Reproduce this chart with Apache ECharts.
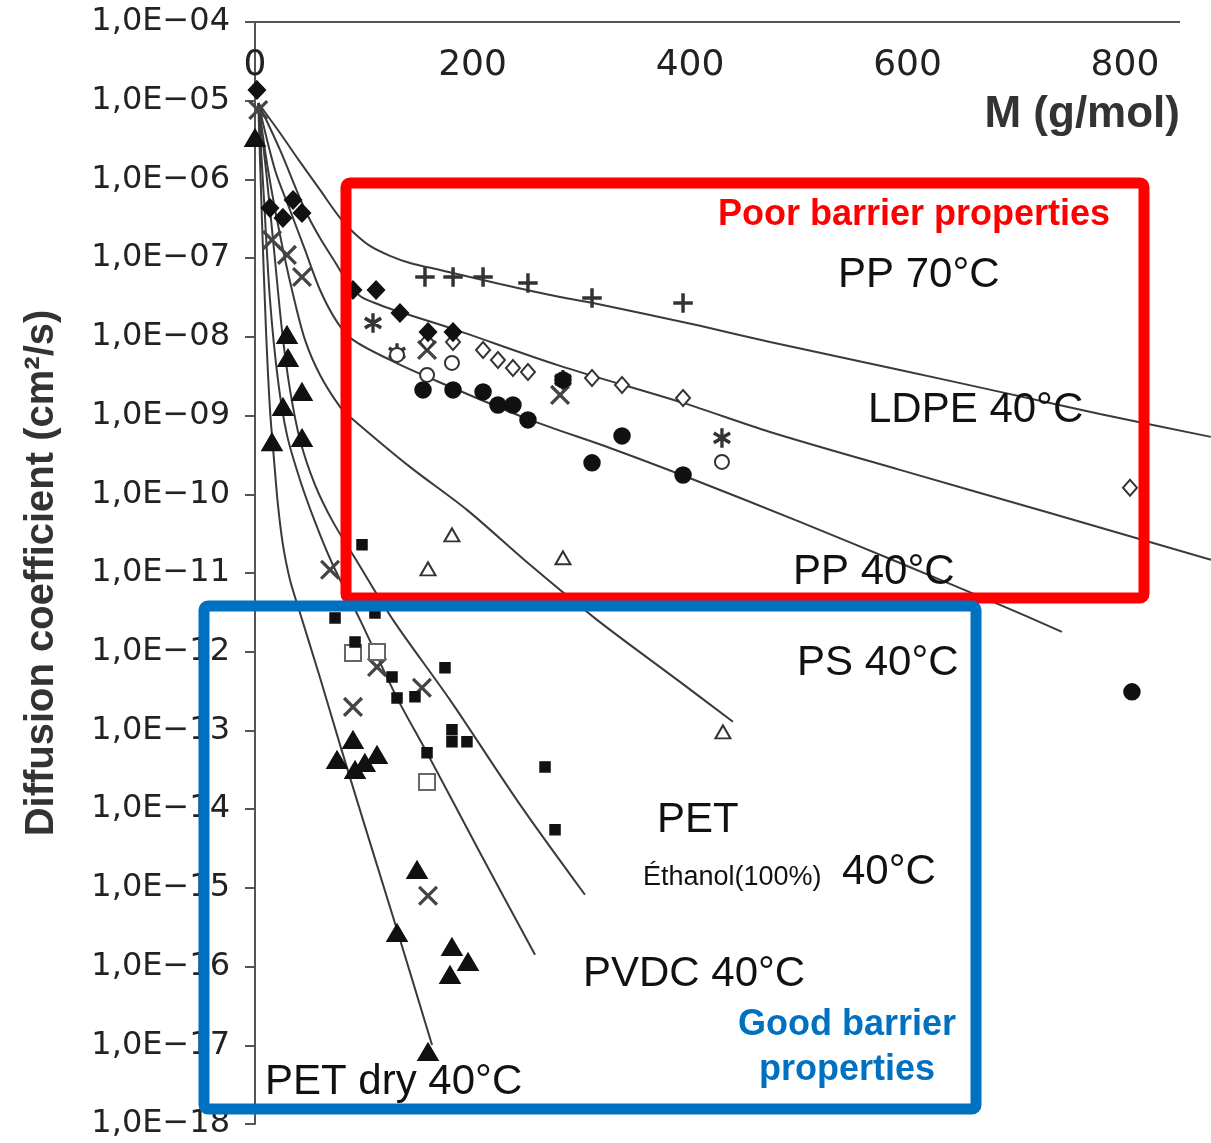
<!DOCTYPE html>
<html>
<head>
<meta charset="utf-8">
<script src="https://cdn.jsdelivr.net/npm/echarts@6/dist/echarts.min.js"></script>
<style>
  html, body { margin: 0; padding: 0; background: #fff; }
  #chart { width: 1211px; height: 1143px; }
</style>
</head>
<body>
<div id="chart"></div>
<script>
// fitted curves, M in g/mol, D in cm2/s
var pp70M = [3, 23, 41.4, 59.8, 78.2, 90.1, 105.7, 124.1, 142.5, 170.1, 225.3, 280.5, 310.8, 409.2, 473.6, 593.1, 685.1, 777, 879];
var pp70D = [9.35e-6, 3.89e-6, 1.67e-6, 7.35e-7, 3.24e-7, 2.15e-7, 1.43e-7, 1.07e-7, 8.69e-8, 7.08e-8, 4.7e-8, 3.21e-8, 2.7e-8, 1.38e-8, 8.61e-9, 3.8e-9, 2.0e-9, 1.05e-9, 5.36e-10];
var ldpeM = [3, 23, 46, 59.8, 73.6, 82.8, 96.6, 115, 133.3, 179.3, 280.5, 393.6, 473.6, 593.1, 731, 879];
var ldpeD = [9.35e-6, 2.37e-6, 4.09e-7, 1.8e-7, 8.95e-8, 5.6e-8, 3.31e-8, 2.54e-8, 2.07e-8, 1.3e-8, 4.28e-9, 1.45e-9, 6.19e-10, 2.04e-10, 5.79e-11, 1.47e-11];
var pp40M = [3, 18.4, 32.2, 46, 59.8, 75.4, 90.1, 124.1, 158.2, 252.9, 326.4, 397.2, 501.1, 593.1, 685.1, 742];
var pp40D = [9.35e-6, 1.32e-6, 4.09e-7, 1.27e-7, 3.94e-8, 1.55e-8, 9.14e-9, 5.09e-9, 3.1e-9, 8.81e-10, 3.88e-10, 1.66e-10, 4.46e-11, 1.34e-11, 3.94e-12, 1.79e-12];
var ps40M = [3, 12, 23, 34, 46, 59.8, 78.2, 87.4, 142.5, 194.9, 252.9, 314.5, 390.8, 439.5];
var ps40D = [9.35e-6, 1.32e-6, 1.97e-7, 3.94e-8, 9.14e-9, 3.28e-9, 1.29e-9, 9.62e-10, 2.23e-10, 6.34e-11, 1.27e-11, 2.54e-12, 4.14e-13, 1.29e-13];
var petEthM = [3, 10.1, 17.5, 24.8, 32.2, 41.4, 55.2, 71.7, 92.9, 126.9, 179.3, 243.7, 303.4];
var petEthD = [9.35e-6, 1.32e-6, 1.27e-7, 1.22e-8, 2.12e-9, 4.91e-10, 1.32e-10, 4.46e-11, 1.47e-11, 2.54e-12, 2.44e-13, 1.14e-14, 8.17e-16];
var pvdcM = [3, 8.3, 13.8, 21.1, 29.4, 41.4, 55.2, 70.8, 96.6, 130.6, 158.2, 206.9, 257.5];
var pvdcD = [9.35e-6, 5.48e-7, 2.94e-8, 2.84e-9, 5.68e-10, 1.52e-10, 4.46e-11, 1.34e-11, 2.54e-12, 2.59e-13, 5.19e-14, 2.79e-15, 1.41e-16];
var petDryM = [3, 6.4, 10.1, 13.8, 17.5, 21.1, 25.7, 32.2, 41.4, 59.8, 78.2, 99.3, 130.6, 162.8];
var petDryD = [9.35e-6, 3.05e-7, 1.22e-8, 1.18e-9, 2.74e-10, 7.33e-11, 2.28e-11, 8.17e-12, 3.11e-12, 4.66e-13, 6.56e-14, 7.31e-15, 2.93e-16, 1.01e-17];

// measured points
var plusM = [156.3, 182.1, 209.7, 251, 309.9, 393.6];
var plusD = [5.77e-8, 5.77e-8, 5.77e-8, 4.84e-8, 3.12e-8, 2.7e-8];
var fDiamondM = [1.8, 13.8, 25.7, 35, 43.2, 90.1, 111.3, 133.3, 159.1, 182.1];
var fDiamondD = [1.37e-5, 4.34e-7, 3.24e-7, 5.48e-7, 3.75e-7, 3.94e-8, 3.94e-8, 2.01e-8, 1.15e-8, 1.15e-8];
var oDiamondM = [158.2, 182.1, 209.7, 223.4, 237.2, 251, 309.9, 337.5, 393.6, 804.6];
var oDiamondD = [8.61e-9, 8.61e-9, 6.82e-9, 5.09e-9, 4.03e-9, 3.58e-9, 3.01e-9, 2.45e-9, 1.67e-9, 1.21e-10];
var starM = [108.5, 130.6, 283.2, 429.4];
var starD = [1.5e-8, 6.25e-9, 2.84e-9, 5.2e-10];
var crossM = [3, 15.6, 29.4, 43.2, 158.2, 280.5, 69, 112.2, 153.5, 90.1, 159.1];
var crossD = [7.62e-6, 1.7e-7, 1.1e-7, 5.77e-8, 6.82e-9, 1.83e-9, 1.1e-11, 6.41e-13, 3.48e-13, 1.99e-13, 7.93e-16];
var oCircleM = [130.6, 158.2, 181.1, 429.4];
var oCircleD = [5.89e-9, 3.28e-9, 4.67e-9, 2.58e-10];
var fCircleM = [154.5, 182.1, 209.7, 223.4, 237.2, 251, 283.2, 309.9, 337.5, 393.6, 806.4];
var fCircleD = [2.12e-9, 2.12e-9, 2.0e-9, 1.36e-9, 1.36e-9, 8.81e-10, 2.84e-9, 2.51e-10, 5.52e-10, 1.76e-10, 3.09e-13];
var oTriM = [181.1, 159.1, 283.2, 430.3];
var oTriD = [3.05e-11, 1.13e-11, 1.56e-11, 9.59e-14];
var fSquareM = [98.4, 73.6, 110.3, 92, 174.7, 126, 130.6, 147.1, 181.1, 181.1, 194.9, 158.2, 266.7, 275.9];
var fSquareD = [2.28e-11, 2.69e-12, 3.11e-12, 1.33e-12, 6.24e-13, 4.79e-13, 2.59e-13, 2.67e-13, 1.02e-13, 7.16e-14, 7.16e-14, 5.19e-14, 3.44e-14, 5.46e-15];
var oSquareM = [90.1, 112.2, 158.2];
var oSquareD = [9.66e-13, 9.95e-13, 2.22e-14];
var fTriM = [0, 29.4, 30.3, 43.2, 25.7, 15.6, 43.2, 90.1, 75.4, 112.2, 92, 101, 149, 130.6, 181.1, 195.9, 179.3, 159.1];
var fTriD = [3.37e-6, 1.06e-8, 5.4e-9, 2.0e-9, 1.29e-9, 4.62e-10, 5.2e-10, 7.59e-14, 4.23e-14, 4.9e-14, 3.16e-14, 3.87e-14, 1.69e-15, 2.69e-16, 1.78e-16, 1.15e-16, 7.85e-17, 8.26e-18];

var xTicks = [0, 200, 400, 600, 800];

function zip(xs, ys) {
  return xs.map(function (x, i) { return [x, ys[i]]; });
}

// bars through the centre, used for +, x and * marks
function barsPath(angles, len, w) {
  var d = '';
  angles.forEach(function (a) {
    var r = a * Math.PI / 180, c = Math.cos(r), s = Math.sin(r);
    var hx = c * len / 2, hy = s * len / 2, px = -s * w / 2, py = c * w / 2;
    var pts = [[hx + px, hy + py], [-hx + px, -hy + py], [-hx - px, -hy - py], [hx - px, hy - py]];
    d += 'M' + pts.map(function (p) { return (p[0] + 50).toFixed(2) + ',' + (p[1] + 50).toFixed(2); }).join('L') + 'Z';
  });
  return 'path://' + d;
}

var lineColor = '#3a3a3a';
function curve(name, xs, ys) {
  return {
    name: name, type: 'line', data: zip(xs, ys),
    showSymbol: false, smooth: 0.3, clip: false,
    lineStyle: { color: lineColor, width: 2 }, z: 2
  };
}
function marks(name, xs, ys, symbol, size, color) {
  return {
    name: name, type: 'scatter', data: zip(xs, ys),
    symbol: symbol, symbolSize: size,
    itemStyle: { color: color, borderColor: color, borderWidth: 1.5, opacity: 1 },
    z: 3
  };
}

var chart = echarts.init(document.getElementById('chart'));
// axis runs to the window edge so the curves can too; its drawn line stops at 850
var xMax = 879.1;
chart.setOption({
  animation: false,
  backgroundColor: '#fff',
  grid: { left: 255, top: 22, right: 0, bottom: 19, containLabel: false, outerBoundsMode: 'none' },
  xAxis: {
    type: 'value', position: 'top', min: 0, max: xMax, interval: 200,
    axisLine: { show: false },
    axisTick: { show: false },
    axisLabel: {
      inside: true, margin: 26, fontSize: 36, fontFamily: 'DejaVu Sans', color: '#222',
      showMaxLabel: false,
      formatter: function (v) { return xTicks.indexOf(v) >= 0 ? String(v) : ''; }
    },
    splitLine: { show: false }
  },
  yAxis: {
    type: 'log', logBase: 10, min: 1e-18, max: 1e-4, interval: 1,
    axisLine: { show: true, onZero: false, lineStyle: { color: '#555', width: 2 } },
    axisTick: { show: true, length: 10, lineStyle: { color: '#555', width: 2 } },
    axisLabel: {
      margin: 25, fontSize: 32, fontFamily: 'DejaVu Sans', color: '#222',
      formatter: function (v) {
        var n = -Math.round(Math.log10(v));
        return '1,0E\u2212' + (n < 10 ? '0' + n : n);
      }
    },
    splitLine: { show: false },
    name: 'Diffusion coefficient (cm\u00b2/s)',
    nameLocation: 'middle', nameGap: 193, nameRotate: 90, nameMoveOverlap: false,
    nameTextStyle: { fontSize: 40, fontWeight: 'bold', fontFamily: 'Liberation Sans', color: '#333' }
  },
  series: [
    curve('PP 70°C', pp70M, pp70D),
    curve('LDPE 40°C', ldpeM, ldpeD),
    curve('PP 40°C', pp40M, pp40D),
    curve('PS 40°C', ps40M, ps40D),
    curve('PET Éthanol 40°C', petEthM, petEthD),
    curve('PVDC 40°C', pvdcM, pvdcD),
    curve('PET dry 40°C', petDryM, petDryD),
    marks('plus', plusM, plusD, barsPath([0, 90], 20, 2.2), 18, '#333'),
    marks('cross', crossM, crossD, barsPath([45, 135], 24, 1.8), 18, '#444'),
    marks('asterisk', starM, starD, barsPath([90, 30, 150], 20, 2.2), [16, 18], '#333'),
    marks('open diamond', oDiamondM, oDiamondD, 'emptyDiamond', [14, 16], '#333'),
    marks('open circle', oCircleM, oCircleD, 'emptyCircle', 14, '#333'),
    marks('open triangle', oTriM, oTriD, 'emptyTriangle', [15, 13], '#333'),
    marks('open square', oSquareM, oSquareD, 'emptyRect', 16, '#666'),
    marks('filled diamond', fDiamondM, fDiamondD, 'diamond', [17, 18], '#111'),
    marks('filled circle', fCircleM, fCircleD, 'circle', 16, '#111'),
    marks('filled square', fSquareM, fSquareD, 'rect', 10, '#111'),
    marks('filled triangle', fTriM, fTriD, 'triangle', [20, 17], '#111')
  ],
  graphic: [
    { type: 'line', z: 5, shape: { x1: 255, y1: 22, x2: 1180, y2: 22 },
      style: { stroke: '#555', lineWidth: 2 } },
    { type: 'rect', z: 100, shape: { x: 346, y: 183, width: 798, height: 415, r: 4 },
      style: { fill: 'rgba(0,0,0,0)', stroke: '#ff0000', lineWidth: 11 } },
    { type: 'rect', z: 101, shape: { x: 204, y: 606, width: 772, height: 503, r: 4 },
      style: { fill: 'rgba(0,0,0,0)', stroke: '#0070c0', lineWidth: 11 } },
    { type: 'text', z: 102, x: 1180, y: 115,
      style: { text: 'M (g/mol)', font: 'bold 44px "Liberation Sans"', fill: '#333', align: 'right', verticalAlign: 'middle' } },
    { type: 'text', z: 102, x: 914, y: 215,
      style: { text: 'Poor barrier properties', font: 'bold 36px "Liberation Sans"', fill: '#ff0000', align: 'center', verticalAlign: 'middle' } },
    { type: 'text', z: 102, x: 838, y: 275,
      style: { text: 'PP 70°C', font: '42px "Liberation Sans"', fill: '#111', verticalAlign: 'middle' } },
    { type: 'text', z: 102, x: 868, y: 410,
      style: { text: 'LDPE 40°C', font: '42px "Liberation Sans"', fill: '#111', verticalAlign: 'middle' } },
    { type: 'text', z: 102, x: 793, y: 572,
      style: { text: 'PP 40°C', font: '42px "Liberation Sans"', fill: '#111', verticalAlign: 'middle' } },
    { type: 'text', z: 102, x: 797, y: 663,
      style: { text: 'PS 40°C', font: '42px "Liberation Sans"', fill: '#111', verticalAlign: 'middle' } },
    { type: 'text', z: 102, x: 657, y: 820,
      style: { text: 'PET', font: '42px "Liberation Sans"', fill: '#111', verticalAlign: 'middle' } },
    { type: 'text', z: 102, x: 643, y: 878,
      style: { text: 'Éthanol(100%)', font: '27px "Liberation Sans"', fill: '#111', verticalAlign: 'middle' } },
    { type: 'text', z: 102, x: 842, y: 872,
      style: { text: '40°C', font: '42px "Liberation Sans"', fill: '#111', verticalAlign: 'middle' } },
    { type: 'text', z: 102, x: 583, y: 974,
      style: { text: 'PVDC 40°C', font: '42px "Liberation Sans"', fill: '#111', verticalAlign: 'middle' } },
    { type: 'text', z: 102, x: 265, y: 1082,
      style: { text: 'PET dry 40°C', font: '42px "Liberation Sans"', fill: '#111', verticalAlign: 'middle' } },
    { type: 'text', z: 102, x: 847, y: 1025,
      style: { text: 'Good barrier', font: 'bold 36px "Liberation Sans"', fill: '#0070c0', align: 'center', verticalAlign: 'middle' } },
    { type: 'text', z: 102, x: 847, y: 1070,
      style: { text: 'properties', font: 'bold 36px "Liberation Sans"', fill: '#0070c0', align: 'center', verticalAlign: 'middle' } }
  ]
});
</script>
</body>
</html>
